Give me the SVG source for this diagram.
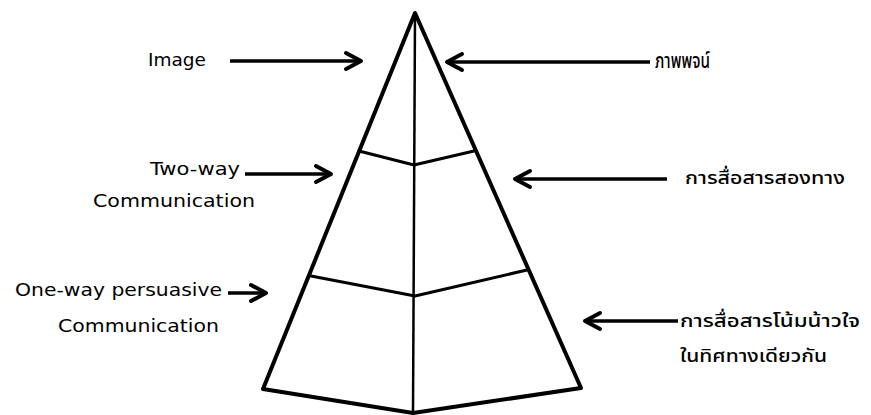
<svg xmlns="http://www.w3.org/2000/svg" width="871" height="415" viewBox="0 0 871 415">
<style>
.en{font-family:"DejaVu Sans","Liberation Sans",sans-serif;font-size:17px;fill:#000}
.th{font-family:"Noto Sans Thai","Noto Sans","DejaVu Sans",sans-serif;font-size:18px;fill:#000;font-weight:500}
.edge{fill:none;stroke:#000;stroke-width:4;stroke-linejoin:round;stroke-linecap:round}
.div{fill:none;stroke:#000;stroke-width:3;stroke-linejoin:round;stroke-linecap:round}
.mid{fill:none;stroke:#000;stroke-width:2.5}
.arr{fill:none;stroke:#000;stroke-width:3.5;marker-end:url(#ah)}
</style>
<defs>
<marker id="ah" viewBox="-20 -12 24 24" refX="0" refY="0" markerWidth="24" markerHeight="24" markerUnits="userSpaceOnUse" orient="auto">
<path d="M-15,-8 L0,0 L-15,8" fill="none" stroke="#000" stroke-width="4" stroke-linecap="round" stroke-linejoin="round"/>
</marker>
</defs>
<rect width="871" height="415" fill="#fff"/>
<g id="pyramid">
<polygon class="edge" points="415,13 263,389 413,413 581,388"/>
<line class="mid" x1="415" y1="15" x2="413" y2="413"/>
</g>
<g id="level-image">
<text class="en" x="148" y="66" textLength="58" lengthAdjust="spacingAndGlyphs">Image</text>
<text class="th" x="655" y="68" style="font-size:21px" textLength="55" lengthAdjust="spacingAndGlyphs">ภาพพจน์</text>
</g>
<g id="level-two-way">
<polyline class="div" points="359,151 414,165 474,151"/>
<text class="en" x="150" y="175" textLength="90" lengthAdjust="spacingAndGlyphs">Two-way</text>
<text class="en" x="93" y="207" textLength="162" lengthAdjust="spacingAndGlyphs">Communication</text>
<text class="th" x="685" y="184" textLength="160" lengthAdjust="spacingAndGlyphs">การสื่อสารสองทาง</text>
</g>
<g id="level-one-way">
<polyline class="div" points="311,276 415,296 527,270"/>
<text class="en" x="15" y="296" textLength="207" lengthAdjust="spacingAndGlyphs">One-way persuasive</text>
<text class="en" x="58" y="332" textLength="161" lengthAdjust="spacingAndGlyphs">Communication</text>
<text class="th" x="680" y="327" textLength="180" lengthAdjust="spacingAndGlyphs">การสื่อสารโน้มน้าวใจ</text>
<text class="th" x="680" y="362" textLength="147" lengthAdjust="spacingAndGlyphs">ในทิศทางเดียวกัน</text>
</g>
<g id="connectors">
<line class="arr" x1="230" y1="61" x2="361" y2="61"/>
<line class="arr" x1="650" y1="62" x2="447" y2="62"/>
<line class="arr" x1="245" y1="174" x2="331" y2="174"/>
<line class="arr" x1="667" y1="179" x2="515" y2="179"/>
<line class="arr" x1="228" y1="293" x2="266" y2="293"/>
<line class="arr" x1="678" y1="321" x2="585" y2="321"/>
</g>
</svg>
